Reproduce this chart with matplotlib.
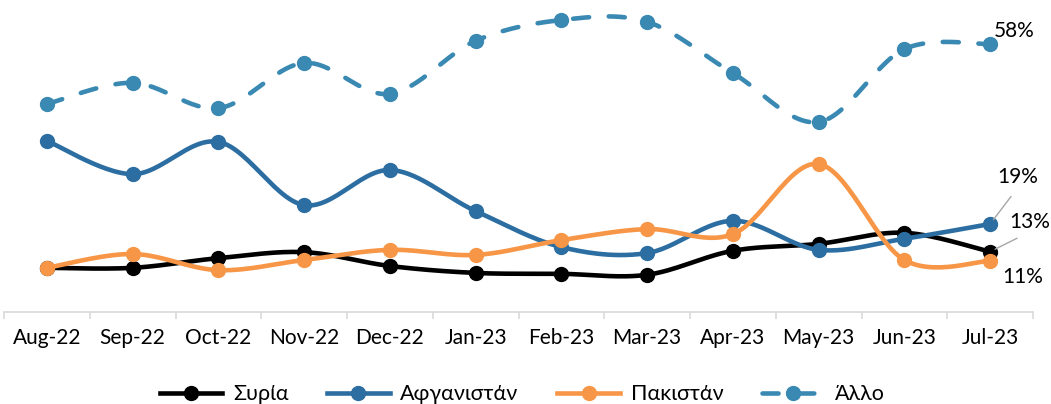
import matplotlib.pyplot as plt
import numpy as np
from matplotlib.lines import Line2D

months = ['Aug-22', 'Sep-22', 'Oct-22', 'Nov-22', 'Dec-22', 'Jan-23',
          'Feb-23', 'Mar-23', 'Apr-23', 'May-23', 'Jun-23', 'Jul-23']

syria = [9.5, 9.5, 11.6, 12.9, 9.9, 8.4, 8.2, 8.0, 13.2, 14.7, 17.1, 13]
afghanistan = [37.0, 29.8, 36.8, 23.1, 30.7, 21.8, 14.0, 12.7, 19.7, 13.4, 15.8, 19]
pakistan = [9.5, 12.5, 9.0, 11.2, 13.4, 12.3, 15.5, 17.9, 16.8, 32.0, 11.2, 11]
other = [45.0, 49.6, 44.1, 53.9, 47.2, 58.7, 63.2, 62.8, 51.7, 41.1, 56.9, 58]

series_names = ['Συρία', 'Αφγανιστάν', 'Πακιστάν', 'Άλλο']
last_labels = ['13%', '19%', '11%', '58%']

FONT = ['Lato', 'Noto Sans', 'DejaVu Sans']
plt.rcParams['font.family'] = FONT


def smooth(x, y, n=30):
    # excel-like smoothed line: cubic bezier with catmull-rom control points
    x = np.asarray(x, float)
    y = np.asarray(y, float)
    px = np.concatenate([[x[0]], x, [x[-1]]])
    py = np.concatenate([[y[0]], y, [y[-1]]])
    t = np.linspace(0, 1, n)[:, None]
    xs, ys = [], []
    for i in range(1, len(px) - 2):
        p0 = np.array([px[i], py[i]])
        p3 = np.array([px[i + 1], py[i + 1]])
        c1 = p0 + (np.array([px[i + 1], py[i + 1]]) - np.array([px[i - 1], py[i - 1]])) / 6
        c2 = p3 - (np.array([px[i + 2], py[i + 2]]) - np.array([px[i], py[i]])) / 6
        b = ((1 - t) ** 3) * p0 + 3 * ((1 - t) ** 2) * t * c1 + 3 * (1 - t) * t ** 2 * c2 + t ** 3 * p3
        xs.append(b[:, 0])
        ys.append(b[:, 1])
    return np.concatenate(xs), np.concatenate(ys)


fig = plt.figure(figsize=(10.51, 4.04), dpi=100)
ax = fig.add_axes([4 / 1051, 0.2285, 1029 / 1051, 0.7425])

x = np.arange(len(months))
colors = ['#000000', '#2c6ea1', '#f79646', '#3a89b3']
styles = ['-', '-', '-', (0, (3.5, 4.3))]
data = [syria, afghanistan, pakistan, other]

for k, (vals, c, ls) in enumerate(zip(data, colors, styles)):
    sx, sy = smooth(x, vals)
    ax.plot(sx, sy, color=c, lw=3.3, linestyle=ls, dash_capstyle='round',
            solid_capstyle='round', zorder=2 + k, clip_on=False)
    ax.plot(x, vals, 'o', color=c, markersize=10, zorder=2 + k, clip_on=False)

ax.set_xlim(-0.5, 11.5)
ax.set_ylim(0, 65)

for s in ['left', 'right', 'top']:
    ax.spines[s].set_visible(False)
ax.spines['bottom'].set_color('#d9d9d9')
ax.spines['bottom'].set_linewidth(1.2)
ax.set_yticks([])

ax.set_xticks(np.arange(-0.5, 12, 1))
ax.set_xticklabels([])
ax.tick_params(axis='x', which='major', length=5, width=1.2, color='#d9d9d9')
ax.set_xticks(x, minor=True)
ax.set_xticklabels(months, minor=True, fontsize=15, color='#000000')
ax.tick_params(axis='x', which='minor', length=0, pad=12)

# data labels on the last month
offsets = [(28.8, 21.6), (20.2, 33.8), (23.8, -11.5), (17.3, 9.4)]
leaders = [True, True, False, False]
for vals, lab, off, lead in zip(data, last_labels, offsets, leaders):
    kw = {}
    if lead:
        kw['arrowprops'] = dict(arrowstyle='-', color='#a6a6a6', lw=1,
                                shrinkA=6, shrinkB=4, relpos=(0.5, 0))
    ax.annotate(lab, xy=(x[-1], vals[-1]), xytext=off, textcoords='offset points',
                ha='center', va='center', fontsize=15, color='#000000',
                annotation_clip=False, zorder=10, **kw)

handles = [Line2D([], [], color=c, lw=3.3, linestyle=ls, marker='o', markersize=10,
                  dash_capstyle='round')
           for c, ls in zip(colors, styles)]
fig.legend(handles, series_names, loc='center', bbox_to_anchor=(0.497, 0.024),
           ncol=4, frameon=False, fontsize=15.5, handlelength=2.9,
           handletextpad=0.5, columnspacing=1.8, borderaxespad=0)

fig.savefig('out.png', dpi=100)
